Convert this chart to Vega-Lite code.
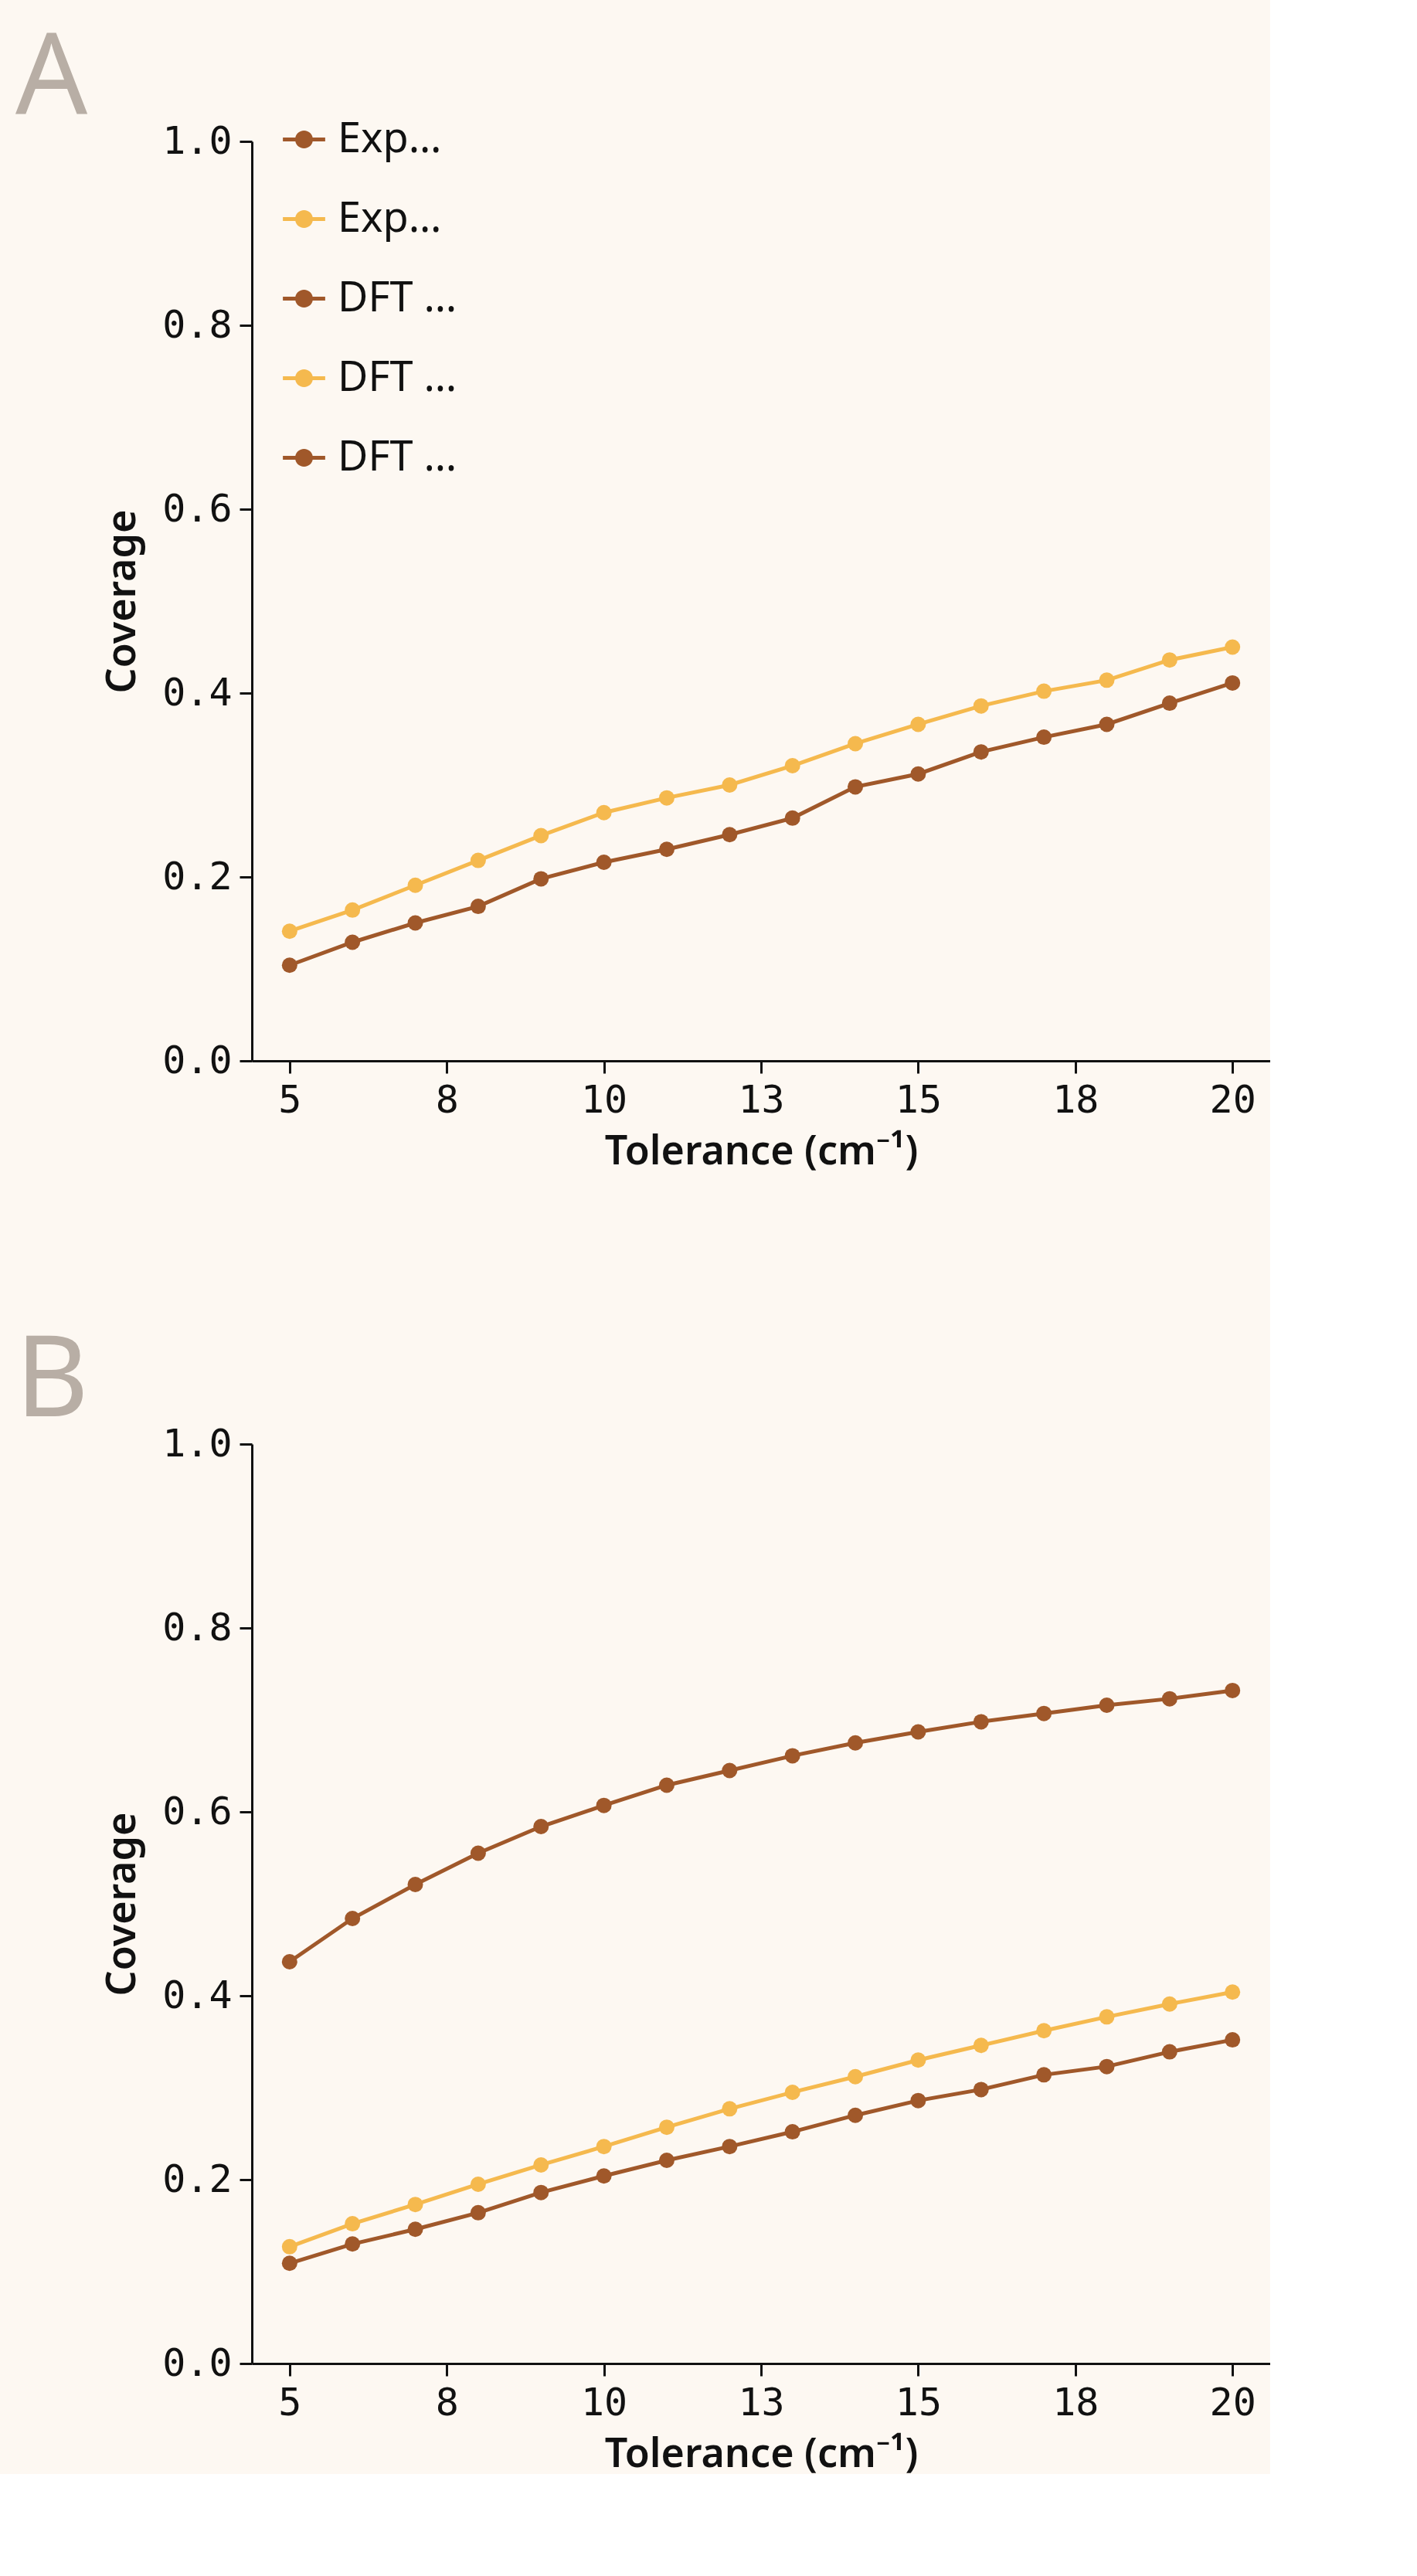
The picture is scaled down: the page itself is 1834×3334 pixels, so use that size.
{
"$schema":"https://vega.github.io/schema/vega-lite/v6.json",
"background":"#fdf8f2",
"padding":{"left":20,"top":30,"right":0,"bottom":0},
"datasets":{
"a":[
{"t":5,"v":0.104,"s":"Experimental peak benchmark, weighted"},{"t":6,"v":0.129,"s":"Experimental peak benchmark, weighted"},{"t":7,"v":0.150,"s":"Experimental peak benchmark, weighted"},{"t":8,"v":0.168,"s":"Experimental peak benchmark, weighted"},{"t":9,"v":0.198,"s":"Experimental peak benchmark, weighted"},{"t":10,"v":0.216,"s":"Experimental peak benchmark, weighted"},{"t":11,"v":0.230,"s":"Experimental peak benchmark, weighted"},{"t":12,"v":0.246,"s":"Experimental peak benchmark, weighted"},{"t":13,"v":0.264,"s":"Experimental peak benchmark, weighted"},{"t":14,"v":0.298,"s":"Experimental peak benchmark, weighted"},{"t":15,"v":0.312,"s":"Experimental peak benchmark, weighted"},{"t":16,"v":0.336,"s":"Experimental peak benchmark, weighted"},{"t":17,"v":0.352,"s":"Experimental peak benchmark, weighted"},{"t":18,"v":0.366,"s":"Experimental peak benchmark, weighted"},{"t":19,"v":0.389,"s":"Experimental peak benchmark, weighted"},{"t":20,"v":0.411,"s":"Experimental peak benchmark, weighted"},
{"t":5,"v":0.141,"s":"Experimental peak benchmark, unweighted"},{"t":6,"v":0.164,"s":"Experimental peak benchmark, unweighted"},{"t":7,"v":0.191,"s":"Experimental peak benchmark, unweighted"},{"t":8,"v":0.218,"s":"Experimental peak benchmark, unweighted"},{"t":9,"v":0.245,"s":"Experimental peak benchmark, unweighted"},{"t":10,"v":0.270,"s":"Experimental peak benchmark, unweighted"},{"t":11,"v":0.286,"s":"Experimental peak benchmark, unweighted"},{"t":12,"v":0.300,"s":"Experimental peak benchmark, unweighted"},{"t":13,"v":0.321,"s":"Experimental peak benchmark, unweighted"},{"t":14,"v":0.345,"s":"Experimental peak benchmark, unweighted"},{"t":15,"v":0.366,"s":"Experimental peak benchmark, unweighted"},{"t":16,"v":0.386,"s":"Experimental peak benchmark, unweighted"},{"t":17,"v":0.402,"s":"Experimental peak benchmark, unweighted"},{"t":18,"v":0.414,"s":"Experimental peak benchmark, unweighted"},{"t":19,"v":0.436,"s":"Experimental peak benchmark, unweighted"},{"t":20,"v":0.450,"s":"Experimental peak benchmark, unweighted"}
],
"b":[
{"t":5,"v":0.109,"s":"DFT peak-resolution benchmark, weighted"},{"t":6,"v":0.130,"s":"DFT peak-resolution benchmark, weighted"},{"t":7,"v":0.146,"s":"DFT peak-resolution benchmark, weighted"},{"t":8,"v":0.164,"s":"DFT peak-resolution benchmark, weighted"},{"t":9,"v":0.186,"s":"DFT peak-resolution benchmark, weighted"},{"t":10,"v":0.204,"s":"DFT peak-resolution benchmark, weighted"},{"t":11,"v":0.221,"s":"DFT peak-resolution benchmark, weighted"},{"t":12,"v":0.236,"s":"DFT peak-resolution benchmark, weighted"},{"t":13,"v":0.252,"s":"DFT peak-resolution benchmark, weighted"},{"t":14,"v":0.270,"s":"DFT peak-resolution benchmark, weighted"},{"t":15,"v":0.286,"s":"DFT peak-resolution benchmark, weighted"},{"t":16,"v":0.298,"s":"DFT peak-resolution benchmark, weighted"},{"t":17,"v":0.314,"s":"DFT peak-resolution benchmark, weighted"},{"t":18,"v":0.323,"s":"DFT peak-resolution benchmark, weighted"},{"t":19,"v":0.339,"s":"DFT peak-resolution benchmark, weighted"},{"t":20,"v":0.352,"s":"DFT peak-resolution benchmark, weighted"},
{"t":5,"v":0.127,"s":"DFT peak-resolution benchmark, unweighted"},{"t":6,"v":0.152,"s":"DFT peak-resolution benchmark, unweighted"},{"t":7,"v":0.173,"s":"DFT peak-resolution benchmark, unweighted"},{"t":8,"v":0.195,"s":"DFT peak-resolution benchmark, unweighted"},{"t":9,"v":0.216,"s":"DFT peak-resolution benchmark, unweighted"},{"t":10,"v":0.236,"s":"DFT peak-resolution benchmark, unweighted"},{"t":11,"v":0.257,"s":"DFT peak-resolution benchmark, unweighted"},{"t":12,"v":0.277,"s":"DFT peak-resolution benchmark, unweighted"},{"t":13,"v":0.295,"s":"DFT peak-resolution benchmark, unweighted"},{"t":14,"v":0.312,"s":"DFT peak-resolution benchmark, unweighted"},{"t":15,"v":0.330,"s":"DFT peak-resolution benchmark, unweighted"},{"t":16,"v":0.346,"s":"DFT peak-resolution benchmark, unweighted"},{"t":17,"v":0.362,"s":"DFT peak-resolution benchmark, unweighted"},{"t":18,"v":0.377,"s":"DFT peak-resolution benchmark, unweighted"},{"t":19,"v":0.391,"s":"DFT peak-resolution benchmark, unweighted"},{"t":20,"v":0.404,"s":"DFT peak-resolution benchmark, unweighted"},
{"t":5,"v":0.437,"s":"DFT mode-resolution benchmark, unweighted"},{"t":6,"v":0.484,"s":"DFT mode-resolution benchmark, unweighted"},{"t":7,"v":0.521,"s":"DFT mode-resolution benchmark, unweighted"},{"t":8,"v":0.555,"s":"DFT mode-resolution benchmark, unweighted"},{"t":9,"v":0.584,"s":"DFT mode-resolution benchmark, unweighted"},{"t":10,"v":0.607,"s":"DFT mode-resolution benchmark, unweighted"},{"t":11,"v":0.629,"s":"DFT mode-resolution benchmark, unweighted"},{"t":12,"v":0.645,"s":"DFT mode-resolution benchmark, unweighted"},{"t":13,"v":0.661,"s":"DFT mode-resolution benchmark, unweighted"},{"t":14,"v":0.675,"s":"DFT mode-resolution benchmark, unweighted"},{"t":15,"v":0.687,"s":"DFT mode-resolution benchmark, unweighted"},{"t":16,"v":0.698,"s":"DFT mode-resolution benchmark, unweighted"},{"t":17,"v":0.707,"s":"DFT mode-resolution benchmark, unweighted"},{"t":18,"v":0.716,"s":"DFT mode-resolution benchmark, unweighted"},{"t":19,"v":0.723,"s":"DFT mode-resolution benchmark, unweighted"},{"t":20,"v":0.732,"s":"DFT mode-resolution benchmark, unweighted"}
]
},
"config":{
"view":{"stroke":null},
"axis":{"labelFont":"DejaVu Sans Mono","labelFontSize":50,"labelColor":"#111","titleFont":"Noto Sans","titleFontSize":52,"titleFontWeight":600,"titleColor":"#111","domainColor":"#111","domainWidth":3,"tickColor":"#111","tickWidth":3,"tickSize":16,"labelPadding":10,"grid":false},
"legend":{"labelFont":"Noto Sans","labelFontSize":54,"labelColor":"#111","symbolSize":3000,"symbolStrokeWidth":0,"rowPadding":48,"labelOffset":16,"orient":"none"},
"title":{"font":"Noto Sans","fontSize":146,"fontWeight":400,"color":"#b8aea5","anchor":"start","frame":"group"},
"concat":{"spacing":200}
},
"vconcat":[
{"title":{"text":"A","dx":-306,"offset":-20},
"width":1318,"height":1190,
"data":{"name":"a"},
"encoding":{
"x":{"field":"t","type":"quantitative","scale":{"domain":[4.4,20.6],"nice":false,"zero":false},"axis":{"values":[5,7.5,10,12.5,15,17.5,20],"title":"Tolerance (cm⁻¹)","titlePadding":16}},
"y":{"field":"v","type":"quantitative","scale":{"domain":[0,1]},"axis":{"values":[0,0.2,0.4,0.6,0.8,1],"title":"Coverage","titlePadding":24}},
"color":{"field":"s","type":"nominal","scale":{"domain":["Experimental peak benchmark, weighted","Experimental peak benchmark, unweighted"],"range":["#a0582a","#f5b94e"]},"legend":{"title":null,"legendX":40,"legendY":-30,"symbolType":"M-1,-0.09H1V0.09H-1Z M0.42,0A0.42,0.42 0 1,1 -0.42,0A0.42,0.42 0 1,1 0.42,0Z"}}
},
"layer":[
{"mark":{"type":"line","strokeWidth":5}},
{"mark":{"type":"circle","size":400,"opacity":1}}
]},
{"title":{"text":"B","dx":-306,"offset":-20},
"width":1318,"height":1190,
"data":{"name":"b"},
"encoding":{
"x":{"field":"t","type":"quantitative","scale":{"domain":[4.4,20.6],"nice":false,"zero":false},"axis":{"values":[5,7.5,10,12.5,15,17.5,20],"title":"Tolerance (cm⁻¹)","titlePadding":16}},
"y":{"field":"v","type":"quantitative","scale":{"domain":[0,1]},"axis":{"values":[0,0.2,0.4,0.6,0.8,1],"title":"Coverage","titlePadding":24}},
"color":{"field":"s","type":"nominal","scale":{"domain":["DFT peak-resolution benchmark, weighted","DFT peak-resolution benchmark, unweighted","DFT mode-resolution benchmark, unweighted"],"range":["#2b64a0","#7ab8e6","#93c873"]},"legend":{"title":null,"legendX":40,"legendY":-125,"symbolType":"M-1,-0.09H1V0.09H-1Z M0.42,0A0.42,0.42 0 1,1 -0.42,0A0.42,0.42 0 1,1 0.42,0Z"}}
},
"layer":[
{"mark":{"type":"line","strokeWidth":5}},
{"mark":{"type":"circle","size":400,"opacity":1}}
]}
]
}
